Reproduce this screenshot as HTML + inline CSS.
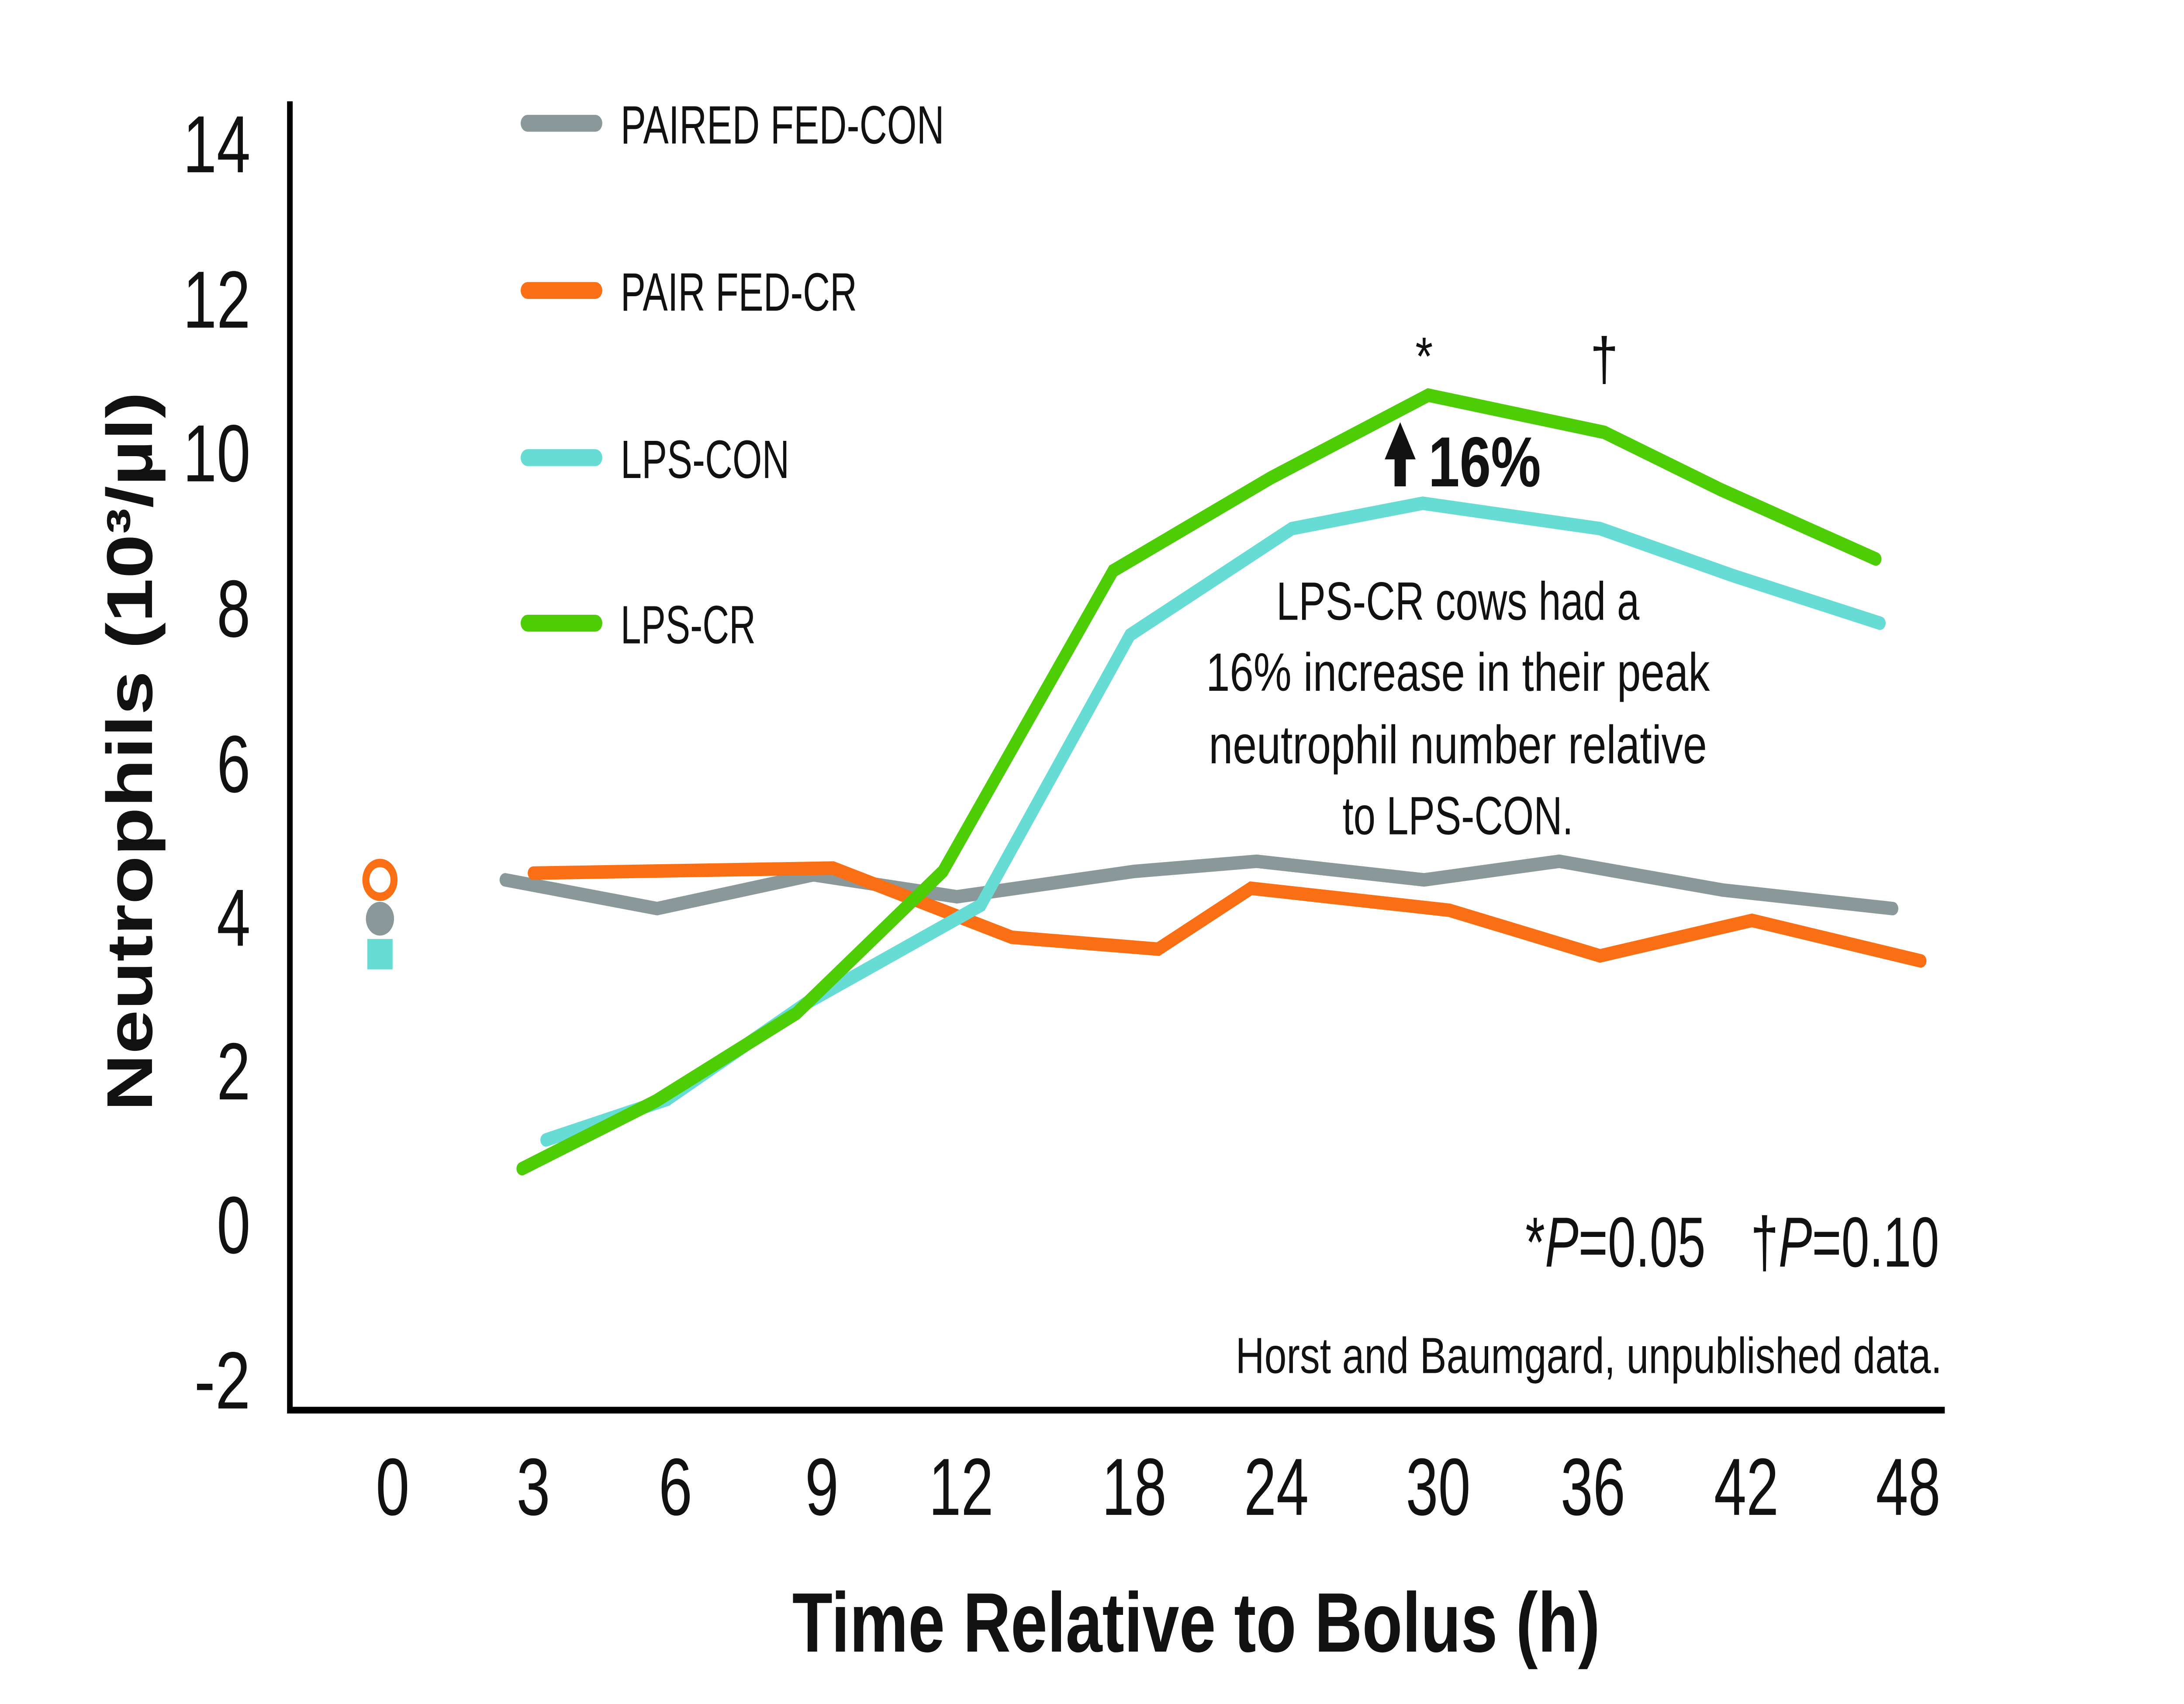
<!DOCTYPE html>
<html><head><meta charset="utf-8"><style>html,body{margin:0;padding:0;background:#fff;width:100%;height:100%;overflow:hidden;}svg{display:block;width:100vw;height:100vh}</style></head>
<body>
<svg viewBox="0 0 1552 1009" preserveAspectRatio="none" xmlns="http://www.w3.org/2000/svg">
<rect width="1552" height="1009" fill="#fff"/>
<g font-family="'Liberation Sans Narrow','Liberation Sans',sans-serif" fill="#111">
<path d="M206,60 V835 H1382" fill="none" stroke="#000" stroke-width="4"/>
<g font-size="48" text-anchor="end">
<text x="178" y="102" textLength="48" lengthAdjust="spacingAndGlyphs">14</text>
<text x="178" y="194" textLength="48" lengthAdjust="spacingAndGlyphs">12</text>
<text x="178" y="285" textLength="48" lengthAdjust="spacingAndGlyphs">10</text>
<text x="178" y="377" textLength="24" lengthAdjust="spacingAndGlyphs">8</text>
<text x="178" y="469" textLength="24" lengthAdjust="spacingAndGlyphs">6</text>
<text x="178" y="560" textLength="24" lengthAdjust="spacingAndGlyphs">4</text>
<text x="178" y="651" textLength="24" lengthAdjust="spacingAndGlyphs">2</text>
<text x="178" y="742" textLength="24" lengthAdjust="spacingAndGlyphs">0</text>
<text x="178" y="834" textLength="40" lengthAdjust="spacingAndGlyphs">-2</text>
</g>
<g font-size="48" text-anchor="middle">
<text x="279" y="897" textLength="24" lengthAdjust="spacingAndGlyphs">0</text>
<text x="379" y="897" textLength="24" lengthAdjust="spacingAndGlyphs">3</text>
<text x="480" y="897" textLength="24" lengthAdjust="spacingAndGlyphs">6</text>
<text x="584" y="897" textLength="24" lengthAdjust="spacingAndGlyphs">9</text>
<text x="683" y="897" textLength="46" lengthAdjust="spacingAndGlyphs">12</text>
<text x="806" y="897" textLength="46" lengthAdjust="spacingAndGlyphs">18</text>
<text x="907" y="897" textLength="46" lengthAdjust="spacingAndGlyphs">24</text>
<text x="1022" y="897" textLength="46" lengthAdjust="spacingAndGlyphs">30</text>
<text x="1132" y="897" textLength="46" lengthAdjust="spacingAndGlyphs">36</text>
<text x="1241" y="897" textLength="46" lengthAdjust="spacingAndGlyphs">42</text>
<text x="1356" y="897" textLength="46" lengthAdjust="spacingAndGlyphs">48</text>
</g>
<text x="563" y="978" font-size="50" font-weight="bold" textLength="574" lengthAdjust="spacingAndGlyphs">Time Relative to Bolus (h)</text>
<text transform="translate(108,658) rotate(-90)" font-family="'Liberation Sans',sans-serif" font-size="46" font-weight="bold" textLength="426" lengthAdjust="spacingAndGlyphs">Neutrophils (10³/µl)</text>
<g fill="none" stroke-width="8" stroke-linejoin="miter" stroke-linecap="round">
<polyline stroke="#8a9899" points="359,521 467,538 578,518 680,531 806,516 893,510 1012,521 1108,510 1224,527 1345,538"/>
<polyline stroke="#fa6e14" points="379,517 592,514 719,555 823,562 889,526 1030,539 1137,566 1245,545 1365,569"/>
<polyline stroke="#66dcd4" points="388,675 474,651 573,594 697,536 803,376 918,313 1011,298 1137,313 1232,341 1336,369"/>
<polyline stroke="#4ccd05" points="371,692 466,652 566,600 670,516 791,338 903,283 1015,234 1140,256 1223,290 1333,331"/>
</g>
<circle cx="270" cy="521" r="10" fill="#fff" stroke="#fa6e14" stroke-width="5"/>
<circle cx="270" cy="544" r="10" fill="#8a9899"/>
<rect x="261" y="556" width="18" height="18" fill="#66dcd4"/>
<g stroke-width="10" stroke-linecap="round">
<line x1="375" y1="73" x2="423" y2="73" stroke="#8a9899"/>
<line x1="375" y1="172" x2="423" y2="172" stroke="#fa6e14"/>
<line x1="375" y1="271" x2="423" y2="271" stroke="#66dcd4"/>
<line x1="375" y1="369" x2="423" y2="369" stroke="#4ccd05"/>
</g>
<g font-size="32">
<text x="441" y="85" textLength="230" lengthAdjust="spacingAndGlyphs">PAIRED FED-CON</text>
<text x="441" y="184" textLength="168" lengthAdjust="spacingAndGlyphs">PAIR FED-CR</text>
<text x="441" y="283" textLength="120" lengthAdjust="spacingAndGlyphs">LPS-CON</text>
<text x="441" y="381" textLength="96" lengthAdjust="spacingAndGlyphs">LPS-CR</text>
</g>
<text x="1012" y="222" font-size="32" text-anchor="middle">*</text>
<text x="1140" y="225" font-size="36" text-anchor="middle">†</text>
<path d="M995,250 L1006,272 L999,272 L999,288 L991,288 L991,272 L984,272 Z" fill="#111"/>
<text x="1015" y="288" font-size="42" font-weight="bold" textLength="80" lengthAdjust="spacingAndGlyphs">16%</text>
<g font-size="32" text-anchor="middle">
<text x="1036" y="367" textLength="258" lengthAdjust="spacingAndGlyphs">LPS-CR cows had a</text>
<text x="1036" y="409" textLength="358" lengthAdjust="spacingAndGlyphs">16% increase in their peak</text>
<text x="1036" y="452" textLength="354" lengthAdjust="spacingAndGlyphs">neutrophil number relative</text>
<text x="1036" y="494" textLength="164" lengthAdjust="spacingAndGlyphs">to LPS-CON.</text>
</g>
<text x="1084" y="750" font-size="42" textLength="128" lengthAdjust="spacingAndGlyphs">*<tspan font-style="italic">P</tspan>=0.05</text>
<text x="1378" y="750" font-size="42" text-anchor="end" textLength="134" lengthAdjust="spacingAndGlyphs">†<tspan font-style="italic">P</tspan>=0.10</text>
<text x="1380" y="813" font-size="30" text-anchor="end" textLength="502" lengthAdjust="spacingAndGlyphs">Horst and Baumgard, unpublished data.</text>
</g>
</svg>
</body></html>
